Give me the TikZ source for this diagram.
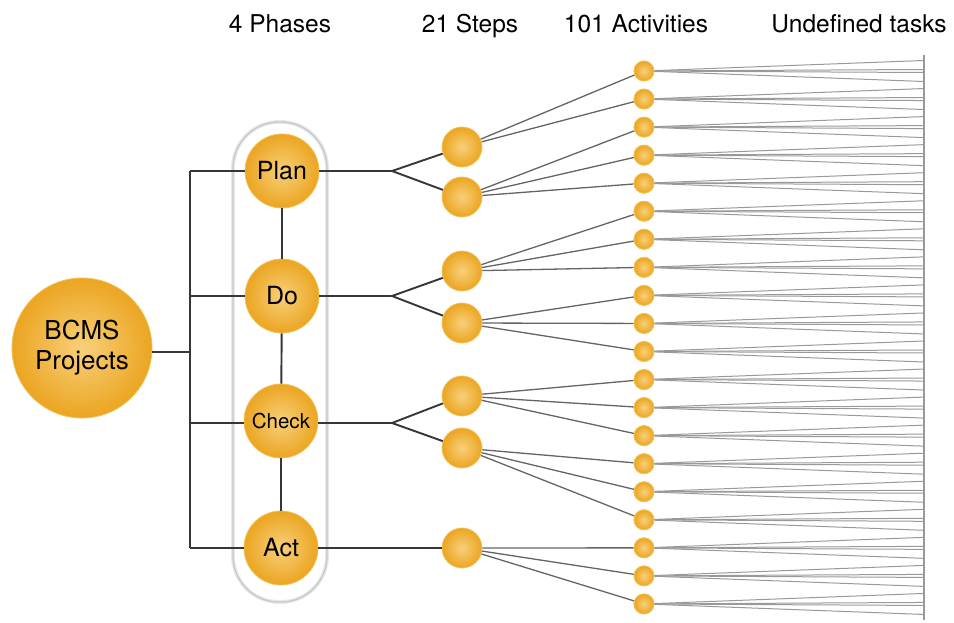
\documentclass[tikz,border=0pt]{standalone}
\usepackage{fontspec}
\setmainfont{TeX Gyre Heros}
\definecolor{ballin}{HTML}{F8D07A}
\definecolor{ballout}{HTML}{EBA521}
\definecolor{ballrim}{HTML}{F2C258}
\definecolor{barc}{HTML}{363636}
\definecolor{linkc}{HTML}{646464}
\definecolor{taskc}{HTML}{999999}
\definecolor{contc}{HTML}{C4C8CC}
\begin{document}
\begin{tikzpicture}[x=1pt,y=-1pt,
  ball/.style={circle, inner sep=0pt, shading=radial, inner color=ballin, outer color=ballout, draw=ballrim, line width=0.8pt},
  bigball/.style={ball, minimum size=140pt, align=center, font=\fontsize{26}{30}\selectfont},
  phase/.style={ball, minimum size=74pt, font=\fontsize{25}{26}\selectfont},
  stepdot/.style={ball, minimum size=40pt},
  actdot/.style={ball, minimum size=20pt},
  bar/.style={draw=barc, line width=1.9pt},
  steplink/.style={draw=linkc, line width=1.3pt},
  tasklink/.style={draw=taskc, line width=1pt},
  taskbar/.style={draw=taskc, line width=1.5pt},
  head/.style={font=\fontsize{24.5}{26}\selectfont, anchor=base, inner sep=0pt}
]
\useasboundingbox (0,0) rectangle (954,623);
% container
\draw[draw=contc!40, line width=4pt, rounded corners=46pt] (233,122) rectangle (327,602);
\draw[draw=contc, line width=1.3pt, rounded corners=46pt] (233,122) rectangle (327,602);

% headings
\node[head] (h1) at (280,33) {4 Phases};
\node[head] (h2) at (470,33) {21 Steps};
\node[head] (h3) at (636,33) {101 Activities};
\node[head] (h4) at (859,33) {Undefined tasks};

% main nodes
\node[bigball] (bcms) at (82,348) {BCMS\\Projects};
\node[phase] (plan) at (282,171) {Plan};
\node[phase] (do) at (282,296) {Do};
\node[phase, font=\fontsize{20.5}{22}\selectfont] (check) at (281,421) {Check};
\node[phase] (act) at (281,548) {Act};

% steps
\foreach \s/\y in {1/147,2/197,3/271,4/323,5/396,6/448,7/548}
  \node[stepdot] (s\s) at (462,\y) {};

% activities
\foreach \i in {1,...,20}{
  \pgfmathsetmacro\ay{71+28.05*(\i-1)}
  \node[actdot] (a\i) at (644,\ay) {};
}

% bus and phase connectors
\coordinate (bus1) at (190,171);
\coordinate (bus2) at (190,296);
\coordinate (bus3) at (190,423);
\coordinate (bus4) at (190,548);
\coordinate (busb) at (190,352);
\draw[bar] (bus1) -- (bus4);
\draw[bar] (bcms.east |- busb) -- (busb);
\draw[bar] (bus1) -- (plan);
\draw[bar] (bus2) -- (do);
\draw[bar] (bus3) -- (check.west |- bus3);
\draw[bar] (bus4) -- (act);
\draw[bar] (plan) -- (do);
\draw[bar] (do) -- (check);
\draw[bar] (check) -- (act);

% forks to steps
\coordinate (f1) at (392,171);
\coordinate (f2) at (392,296);
\coordinate (f3) at (392,423);
\draw[bar] (plan) -- (f1);
\draw[bar] (do) -- (f2);
\draw[bar] (check.east |- f3) -- (f3);
\draw[bar] (f1) -- (s1); \draw[bar] (f1) -- (s2);
\draw[bar] (f2) -- (s3); \draw[bar] (f2) -- (s4);
\draw[bar] (f3) -- (s5); \draw[bar] (f3) -- (s6);
\draw[bar] (act) -- (s7);

% steps to activities
\foreach \s/\lst in {1/{1,2},2/{3,4,5},3/{6,7,8},4/{9,10,11},5/{12,13,14},6/{15,16,17},7/{18,19,20}}
  \foreach \a in \lst
    \draw[steplink] (s\s) -- (a\a);

% activities to tasks
\coordinate (ttop) at (924,55);
\coordinate (tbot) at (924,620);
\draw[taskbar] (ttop) -- (tbot);
\foreach \i in {1,...,20}{
  \pgfmathsetmacro\ay{71+28.05*(\i-1)}
  \foreach[count=\k] \o in {-10.5,-1.5,1.5,10.5}{
    \coordinate (t\i-\k) at (924,\ay+\o);
    \draw[tasklink] (a\i) -- (t\i-\k);
  }
}
% redraw activity dots on top
\foreach \i in {1,...,20}{
  \pgfmathsetmacro\ay{71+28.05*(\i-1)}
  \node[actdot] at (644,\ay) {};
}
\end{tikzpicture}
\end{document}
